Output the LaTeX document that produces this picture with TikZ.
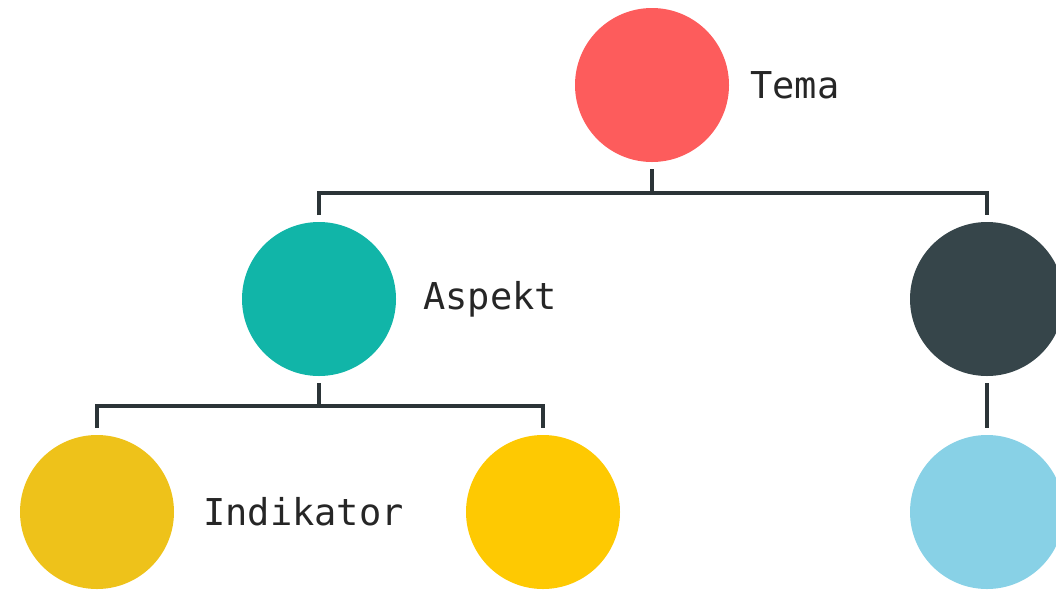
\documentclass[tikz,border=0pt]{standalone}
\usepackage{fontspec}
\setmonofont{DejaVu Sans Mono}
\usetikzlibrary{positioning}

\definecolor{temared}{HTML}{FD5C5C}
\definecolor{aspteal}{HTML}{11B5A8}
\definecolor{slate}{HTML}{36454A}
\definecolor{indgold}{HTML}{EEC21A}
\definecolor{indyellow}{HTML}{FEC902}
\definecolor{skyblue}{HTML}{88D1E6}
\definecolor{wire}{HTML}{2B3437}

\tikzset{
  bubble/.style={circle, minimum size=154pt, inner sep=0pt, outer sep=7pt},
  lbl/.style={right, inner sep=0pt, text=black!85,
    font=\ttfamily\fontsize{37}{40}\selectfont},
  wiring/.style={draw=wire, line width=4.6pt}
}

\begin{document}
\begin{tikzpicture}[x=1pt, y=-1pt]
%  \draw [help lines] (0,0) grid[step=50] (1056,590);
  \useasboundingbox (0,0) rectangle (1056,590);

  \node [bubble, fill=temared] (tema) at (652,85) {};
  \node [lbl] (temalbl) at (750,85) {Tema};

  \node [bubble, fill=aspteal] (aspekt) at (319,299) {};
  \node [lbl] (aspektlbl) at (423,299) {Aspekt};
  \node [bubble, fill=slate] (dark) at (987,299) {};

  \node [bubble, fill=indgold] (indA) at (97,512) {};
  \node [lbl] (indlbl) at (203,512) {Indikator};
  \node [bubble, fill=indyellow] (indB) at (543,512) {};
  \node [bubble, fill=skyblue] (sky) at (987,512) {};

  % branches
  \coordinate (top) at (652,193);
  \coordinate (mid) at (319,406);
  \draw [wiring] (tema.south) -- (top);
  \draw [wiring] (aspekt.north) |- (top) -| (dark.north);
  \draw [wiring] (aspekt.south) -- (mid);
  \draw [wiring] (indA.north) |- (mid) -| (indB.north);
  \draw [wiring] (dark.south) -- (sky.north);
\end{tikzpicture}
\end{document}
